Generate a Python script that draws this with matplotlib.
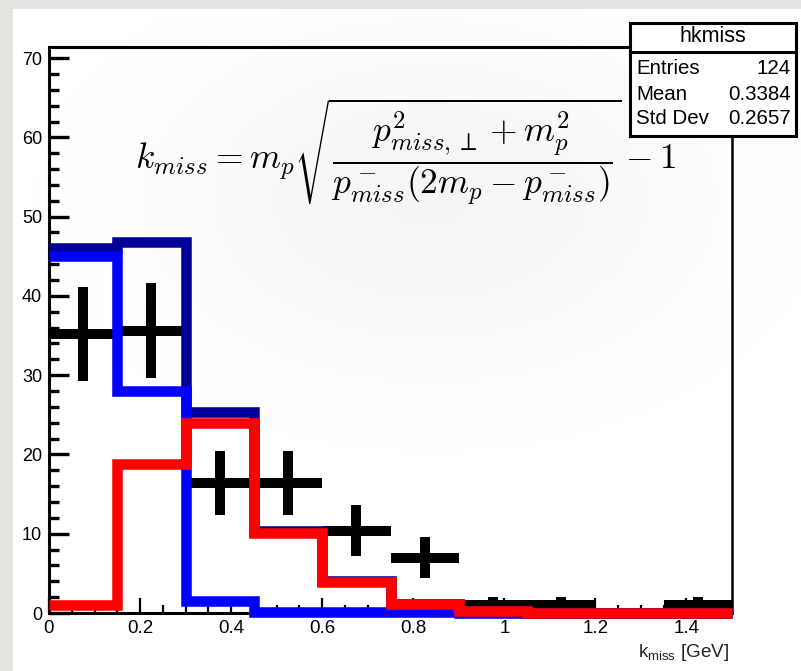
import numpy as np
import matplotlib
matplotlib.use("Agg")
import matplotlib.pyplot as plt
from matplotlib.patches import Rectangle
from matplotlib.lines import Line2D
from matplotlib.ticker import MultipleLocator, FixedLocator

# ---------------- data ----------------
bin_edges = [0.0, 0.15, 0.30, 0.45, 0.60, 0.75, 0.90, 1.05, 1.20, 1.35, 1.50]
data_counts = [35.2, 35.6, 16.4, 16.4, 10.4, 7.0, 1.0, 1.0, 0.0, 1.0]
data_errors = [5.9, 6.0, 4.0, 4.0, 3.2, 2.6, 1.0, 1.0, 0.0, 1.0]
total_counts = [46.0, 46.8, 25.4, 10.3, 4.0, 1.1, 0.3, 0.0, 0.0, 0.0]   # dark blue
blue_counts = [45.0, 28.0, 1.5, 0.1, 0.1, 0.1, 0.0, 0.0, 0.0, 0.0]     # bright blue
red_counts = [1.0, 18.8, 24.0, 10.1, 3.9, 1.1, 0.3, 0.0, 0.0, 0.0]     # red

y_ticks = [0, 10, 20, 30, 40, 50, 60, 70]
x_ticks = [0, 0.2, 0.4, 0.6, 0.8, 1.0, 1.2, 1.4]
x_tick_labels = ["0", "0.2", "0.4", "0.6", "0.8", "1", "1.2", "1.4"]

stats_title = "hkmiss"
stats_names = ["Entries", "Mean", "Std Dev"]
stats_values = ["124", "0.3384", "0.2657"]

formula = (r"$k_{miss} = m_p\sqrt{\dfrac{p^2_{miss,\perp}+m^2_p}"
           r"{p^-_{miss}(2m_p-p^-_{miss})}}-1$")

# ---------------- figure ----------------
plt.rcParams["font.family"] = ["Liberation Sans", "DejaVu Sans"]
plt.rcParams["lines.solid_capstyle"] = "butt"

W, H = 801, 671
fig = plt.figure(figsize=(W / 100, H / 100), dpi=100)
fig.patch.set_facecolor("#e6e4df")


def fx(px):
    return px / W


def fy(py):
    return 1 - py / H


# white slide panel
fig.add_artist(Rectangle((fx(13), 0), 1 - fx(13), fy(9), transform=fig.transFigure,
                         facecolor="white", edgecolor="none", zorder=-10))

# faint glow behind formula
gax = fig.add_axes([0, 0, 1, 1], zorder=-5)
gax.set_axis_off()
yy, xx = np.mgrid[0:H, 0:W]
r2 = ((xx - 430) / 330.0) ** 2 + ((yy - 200) / 210.0) ** 2
alpha = 0.04 * np.exp(-r2 * 1.6)
alpha[(xx < 13) | (yy < 9)] = 0
img = np.zeros((H, W, 4))
img[..., 3] = alpha
gax.imshow(img, extent=[0, W, H, 0], aspect="auto", interpolation="bilinear")
gax.set_xlim(0, W)
gax.set_ylim(H, 0)

# main axes
ax = fig.add_axes([fx(49), fy(613), fx(732) - fx(49), fy(47) - fy(613)], zorder=0)
ax.set_facecolor("none")
ax.set_xlim(0, 1.5)
ax.set_ylim(0, 71.4)

centers = [(bin_edges[i] + bin_edges[i + 1]) / 2 for i in range(len(data_counts))]
half_w = [(bin_edges[i + 1] - bin_edges[i]) / 2 for i in range(len(data_counts))]

lw_hist = 7.6
eb = ax.errorbar(centers, data_counts, xerr=half_w, yerr=data_errors, fmt="none",
                 ecolor="black", elinewidth=7.2, capsize=0, zorder=3)
for c in eb[2]:
    c.set_clip_on(False)
    c.set_capstyle("butt")

for vals, col, z in [(total_counts, "#000099", 4), (blue_counts, "#0000ff", 5),
                     (red_counts, "#ff0000", 6)]:
    sp = ax.stairs(vals, bin_edges, baseline=None, color=col, linewidth=lw_hist,
                   zorder=z)
    sp.set_clip_on(False)
    sp.set_joinstyle("miter")
    sp.set_capstyle("butt")

# spines
for s in ["left", "bottom", "top", "right"]:
    ax.spines[s].set_linewidth(2.2)
    ax.spines[s].set_color("black")
ax.spines["right"].set_linewidth(1.8)

ax.yaxis.set_major_locator(FixedLocator(y_ticks))
ax.yaxis.set_minor_locator(MultipleLocator(2))
ax.xaxis.set_major_locator(FixedLocator(x_ticks))
ax.xaxis.set_minor_locator(MultipleLocator(0.05))
ax.set_xticklabels(x_tick_labels)
ax.set_yticklabels([str(v) for v in y_ticks])

ax.tick_params(axis="y", which="major", direction="in", length=14.5, width=2.4,
               labelsize=13, pad=5, left=True, right=False)
ax.tick_params(axis="y", which="minor", direction="in", length=7.2, width=2.4,
               left=True, right=False)
ax.tick_params(axis="x", which="major", direction="in", length=11, width=1.6,
               labelsize=13.5, pad=5, bottom=True, top=False)
ax.tick_params(axis="x", which="minor", direction="in", length=5.5, width=1.6,
               bottom=True, top=False)

# x axis title
fig.text(fx(729), fy(657), r"k$_{\mathregular{miss}}$ [GeV]", ha="right",
         va="baseline", fontsize=13.5, color="#222222")

# stats box
fig.add_artist(Rectangle((fx(630), fy(136)), fx(796) - fx(630), fy(23) - fy(136),
                         transform=fig.transFigure, facecolor="white",
                         edgecolor="black", linewidth=2.2, zorder=5))
fig.add_artist(Line2D([fx(630), fx(796)], [fy(51.5), fy(51.5)],
                      transform=fig.transFigure, color="black", linewidth=2.2,
                      zorder=6))
fig.text(fx(713), fy(37), stats_title, ha="center", va="center", fontsize=15.5,
         zorder=7)
for i, (n, v) in enumerate(zip(stats_names, stats_values)):
    yp = fy(69 + 25 * i)
    fig.text(fx(636), yp, n, ha="left", va="center", fontsize=14.8, zorder=7)
    fig.text(fx(791), yp, v, ha="right", va="center", fontsize=14.8, zorder=7)

# formula
fig.text(fx(406), fy(152), formula, ha="center", va="center", fontsize=25.5,
         math_fontfamily="cm", zorder=8)

fig.savefig("out.png", dpi=100, facecolor=fig.get_facecolor())
